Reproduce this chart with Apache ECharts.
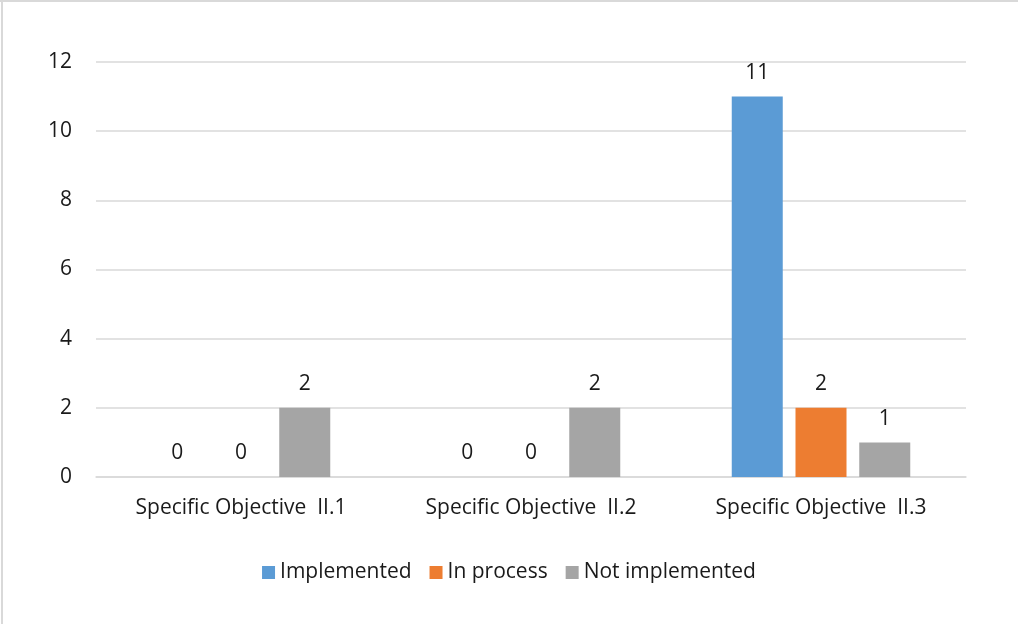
<!DOCTYPE html>
<html>
<head>
<meta charset="utf-8">
<title>Specific Objectives II – implementation status</title>
<script src="https://cdn.jsdelivr.net/npm/echarts@6/dist/echarts.min.js"></script>
<style>
  html, body { margin: 0; padding: 0; background: #ffffff; }
  #chart { width: 1018px; height: 624px; }
</style>
</head>
<body>
<div id="chart"></div>
<script>
// Objectives along the x axis
const categories = ['Specific Objective  II.1', 'Specific Objective  II.2', 'Specific Objective  II.3'];

// Count of measures per status
const implemented = [0, 0, 11];
const inProcess = [0, 0, 2];
const notImplemented = [2, 2, 1];

// Value axis ticks
const yTicks = [0, 2, 4, 6, 8, 10, 12];

const seriesNames = ['Implemented', 'In process', 'Not implemented'];
const seriesColors = ['#5B9BD5', '#ED7D31', '#A5A5A5'];
const seriesData = [implemented, inProcess, notImplemented];

const fontFamily = '"Open Sans", "Noto Sans", sans-serif';
const textColor = '#1a1a1a';
const fontSize = 21;

const chart = echarts.init(document.getElementById('chart'), null, { renderer: 'canvas' });

chart.setOption({
  backgroundColor: '#ffffff',
  animation: false,
  textStyle: { fontFamily: fontFamily },
  graphic: [
    // thin frame along the top and left edges
    { type: 'rect', left: 0, top: 0, shape: { width: 1018, height: 2 }, style: { fill: '#d9d9d9' }, silent: true },
    { type: 'rect', left: 1, top: 0, shape: { width: 2, height: 624 }, style: { fill: '#d9d9d9' }, silent: true }
  ],
  grid: { left: 96, right: 52, top: 62, bottom: 147, containLabel: false },
  legend: {
    bottom: 36,
    left: 'center',
    itemWidth: 13,
    itemHeight: 13,
    itemGap: 18,
    icon: 'rect',
    textStyle: { fontSize: fontSize, color: textColor, fontFamily: fontFamily, padding: [0, 0, 0, 0] },
    data: seriesNames
  },
  xAxis: {
    type: 'category',
    data: categories,
    axisLine: { show: true, lineStyle: { color: '#d9d9d9', width: 1.5 } },
    axisTick: { show: false },
    axisLabel: { fontSize: fontSize, color: textColor, margin: 21, fontFamily: fontFamily }
  },
  yAxis: {
    type: 'value',
    min: yTicks[0],
    max: yTicks[yTicks.length - 1],
    interval: yTicks[1] - yTicks[0],
    axisLine: { show: false },
    axisTick: { show: false },
    splitLine: { lineStyle: { color: '#d9d9d9', width: 1.5 } },
    axisLabel: { fontSize: fontSize, color: textColor, margin: 24, fontFamily: fontFamily }
  },
  series: seriesNames.map((name, i) => ({
    name: name,
    type: 'bar',
    data: seriesData[i],
    barWidth: 51,
    barGap: '25%',
    itemStyle: { color: seriesColors[i] },
    label: {
      show: true,
      position: 'top',
      distance: 13,
      fontSize: fontSize,
      color: textColor,
      fontFamily: fontFamily
    }
  }))
});
</script>
</body>
</html>
